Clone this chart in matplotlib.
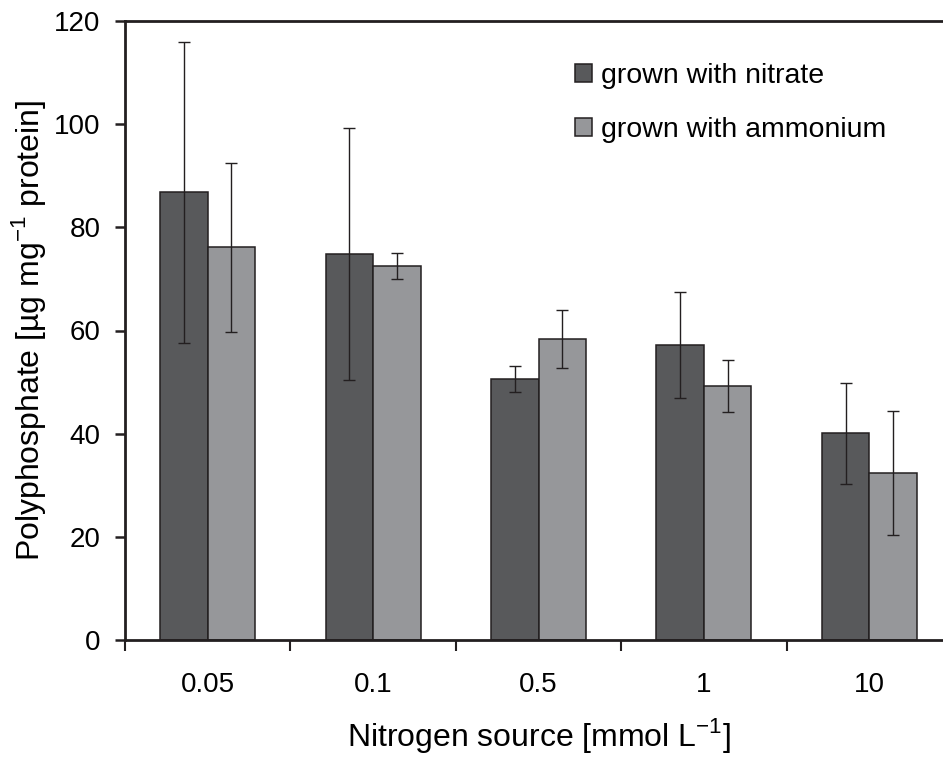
import matplotlib
matplotlib.use("Agg")
import matplotlib.pyplot as plt
import numpy as np

plt.rcParams['font.family'] = ['Liberation Sans', 'DejaVu Sans']

# data
sources = ["0.05", "0.1", "0.5", "1", "10"]
nitrate = [86.8, 74.8, 50.6, 57.2, 40.1]
nitrate_err = [29.2, 24.4, 2.5, 10.2, 9.8]
ammonium = [76.1, 72.5, 58.3, 49.2, 32.4]
ammonium_err = [16.3, 2.5, 5.6, 5.0, 12.0]

dark = "#58595b"
light = "#96979a"
edge = "#231f20"

fig = plt.figure(figsize=(9.43, 7.58), dpi=100)
ax = fig.add_axes([125/943, 118/758, 827/943, 619/758])

x = np.arange(len(sources))
w = 0.287
ekw = dict(ecolor=edge, elinewidth=1.0, capsize=4.5, capthick=1.0)
ax.bar(x - w/2, nitrate, w, yerr=nitrate_err, color=dark, edgecolor=edge,
       linewidth=1.1, error_kw=ekw, label="grown with nitrate")
ax.bar(x + w/2, ammonium, w, yerr=ammonium_err, color=light, edgecolor=edge,
       linewidth=1.1, error_kw=ekw, label="grown with ammonium")

ax.set_xlim(-0.5, len(sources) - 0.5)
ax.set_ylim(0, 120)
ax.set_yticks(np.arange(0, 121, 20))
ax.set_xticks(np.arange(-0.5, len(sources), 1.0))
ax.set_xticklabels([])
ax.set_xticks(x, minor=True)
ax.set_xticklabels(sources, minor=True)
ax.tick_params(axis='x', which='minor', length=0, pad=23, labelsize=20)
ax.tick_params(axis='x', which='major', length=8, width=1.5, color=edge, direction='out')
ax.tick_params(axis='y', length=7.2, width=1.8, color=edge, direction='out', labelsize=20, pad=10.5)

for s in ['left', 'bottom', 'top']:
    ax.spines[s].set_linewidth(2.0)
    ax.spines[s].set_color(edge)
ax.spines['right'].set_visible(False)

ax.set_xlabel(r"Nitrogen source [mmol L$^{\mathregular{-1}}$]", fontsize=23, labelpad=13)
ax.set_ylabel(r"Polyphosphate [µg mg$^{\mathregular{-1}}$ protein]", fontsize=23, labelpad=4)

leg = ax.legend(loc='upper left', bbox_to_anchor=(575/943, 1 - 63/758),
                bbox_transform=fig.transFigure, frameon=False, fontsize=20.5,
                handlelength=0.6, handleheight=0.6, handletextpad=0.32,
                labelspacing=1.0, borderpad=0, borderaxespad=0)

fig.savefig("out.png", dpi=100)
